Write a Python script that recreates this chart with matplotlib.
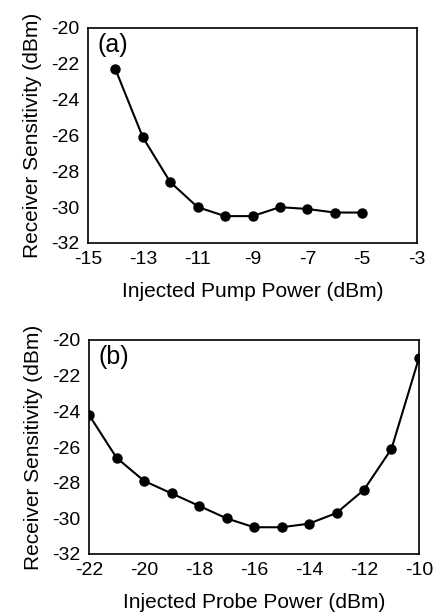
import matplotlib
matplotlib.use("Agg")
import matplotlib.pyplot as plt

plt.rcParams['font.family'] = ['Liberation Sans', 'DejaVu Sans']
plt.rcParams['axes.unicode_minus'] = False

# panel (a): pump power sweep
pump_x = [-14, -13, -12, -11, -10, -9, -8, -7, -6, -5]
pump_y = [-22.3, -26.1, -28.6, -30.0, -30.5, -30.5, -30.0, -30.1, -30.3, -30.3]

# panel (b): probe power sweep
probe_x = [-22, -21, -20, -19, -18, -17, -16, -15, -14, -13, -12, -11, -10]
probe_y = [-24.2, -26.6, -27.9, -28.6, -29.3, -30.0, -30.5, -30.5, -30.3,
           -29.7, -28.4, -26.1, -21.0]

fig = plt.figure(figsize=(4.35, 6.16), dpi=100)
ax1 = fig.add_axes([88/435, 1 - 243/616, 329/435, 215/616])
ax2 = fig.add_axes([89/435, 1 - 554/616, 330/435, 214/616])


def style(ax, xlabel, xticks, tag):
    ax.set_ylim(-32, -20)
    ax.set_yticks(range(-32, -19, 2))
    ax.set_xticks(xticks)
    ax.set_xlim(xticks[0], xticks[-1])
    ax.tick_params(axis='y', length=0, labelsize=14, pad=6)
    ax.tick_params(axis='x', length=0, labelsize=14, pad=6)
    for s in ax.spines.values():
        s.set_linewidth(1.2)
    ax.set_xlabel(xlabel, fontsize=15, labelpad=10)
    ax.set_ylabel("Receiver Sensitivity (dBm)", fontsize=15, labelpad=7)
    ax.text(0.03, 0.975, tag, transform=ax.transAxes, fontsize=18,
            va='top', ha='left')


ax1.plot(pump_x, pump_y, '-o', color='black', lw=1.5, ms=6.5)
style(ax1, "Injected Pump Power (dBm)", [-15, -13, -11, -9, -7, -5, -3], "(a)")

ax2.plot(probe_x, probe_y, '-o', color='black', lw=1.5, ms=6.5)
style(ax2, "Injected Probe Power (dBm)", [-22, -20, -18, -16, -14, -12, -10], "(b)")

fig.savefig("out.png", dpi=100)
